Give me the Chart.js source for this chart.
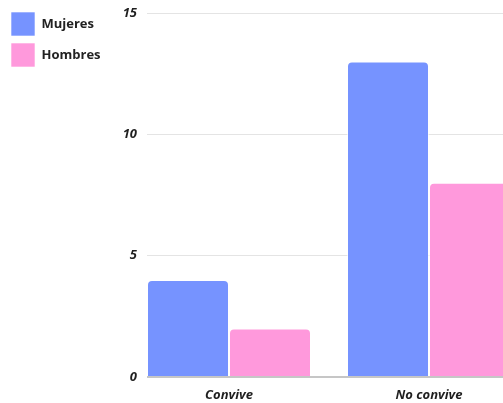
<!DOCTYPE html>
<html>
<head>
<meta charset="utf-8">
<script src="https://cdn.jsdelivr.net/npm/chart.js@4"></script>
<style>
    html, body { margin: 0; padding: 0; background: #fff; overflow: hidden; }
</style>
</head>
<body>
<canvas id="convivenciaChart" width="503" height="403"></canvas>
<script>
    // Datos
    const categorias = ['Convive', 'No convive'];
    const mujeres = [4, 13];
    const hombres = [2, 8];
    const yTicks = [0, 5, 10, 15];

    // categorías en un eje lineal: posición = índice
    const toPoints = (values) => values.map((v, i) => ({ x: i, y: v }));

    const tickFont = { family: 'Open Sans', size: 13, weight: 'bold', style: 'italic' };

    const ctx = document.getElementById('convivenciaChart');

    new Chart(ctx, {
        type: 'bar',
        data: {
            datasets: [{
                label: 'Mujeres',
                data: toPoints(mujeres),
                backgroundColor: '#7693ff',
                borderColor: 'rgba(255, 255, 255, 0.6)',
                borderWidth: 1,
                borderRadius: { topLeft: 5, topRight: 5 },
                borderSkipped: 'bottom'
            }, {
                label: 'Hombres',
                data: toPoints(hombres),
                backgroundColor: '#ff99dc',
                borderColor: 'rgba(255, 255, 255, 0.6)',
                borderWidth: 1,
                borderRadius: { topLeft: 5, topRight: 5 },
                borderSkipped: 'bottom'
            }]
        },
        options: {
            responsive: false,
            animation: false,
            categoryPercentage: 0.82,
            barPercentage: 1,
            layout: {
                padding: { top: 5, left: 4, right: 0, bottom: 0 }
            },
            scales: {
                x: {
                    type: 'linear',
                    offset: false,
                    min: -0.41,
                    max: 1.37,
                    grid: { display: false, offset: false },
                    border: { display: false },
                    afterFit: function (scale) {
                        scale.height = 26;
                    },
                    ticks: {
                        stepSize: 1,
                        includeBounds: false,
                        autoSkip: false,
                        maxRotation: 0,
                        padding: 2,
                        color: '#1f1f1f',
                        font: tickFont,
                        callback: function (value) {
                            return Number.isInteger(value) && categorias[value] ? categorias[value] : '';
                        }
                    }
                },
                y: {
                    min: 0,
                    max: 15,
                    border: { display: false },
                    grid: {
                        drawTicks: false,
                        color: (c) => c.tick && c.tick.value === 0 ? '#c6c6c6' : '#e4e4e4',
                        lineWidth: (c) => c.tick && c.tick.value === 0 ? 2 : 1
                    },
                    afterBuildTicks: function (scale) {
                        scale.ticks = yTicks.map(v => ({ value: v }));
                    },
                    afterFit: function (scale) {
                        // el área del gráfico empieza en x = 147
                        const legend = scale.chart.legend;
                        scale.width = 143 - (legend && legend.width ? legend.width : 0);
                        scale.paddingTop = 13;
                    },
                    ticks: {
                        padding: 10,
                        color: '#1f1f1f',
                        font: tickFont
                    }
                }
            },
            plugins: {
                legend: {
                    position: 'left',
                    align: 'start',
                    labels: {
                        boxWidth: 24,
                        boxHeight: 24,
                        padding: 7,
                        color: '#222',
                        font: { family: 'Open Sans', size: 13, weight: 'bold' }
                    }
                },
                tooltip: { enabled: false }
            }
        }
    });
</script>
</body>
</html>
